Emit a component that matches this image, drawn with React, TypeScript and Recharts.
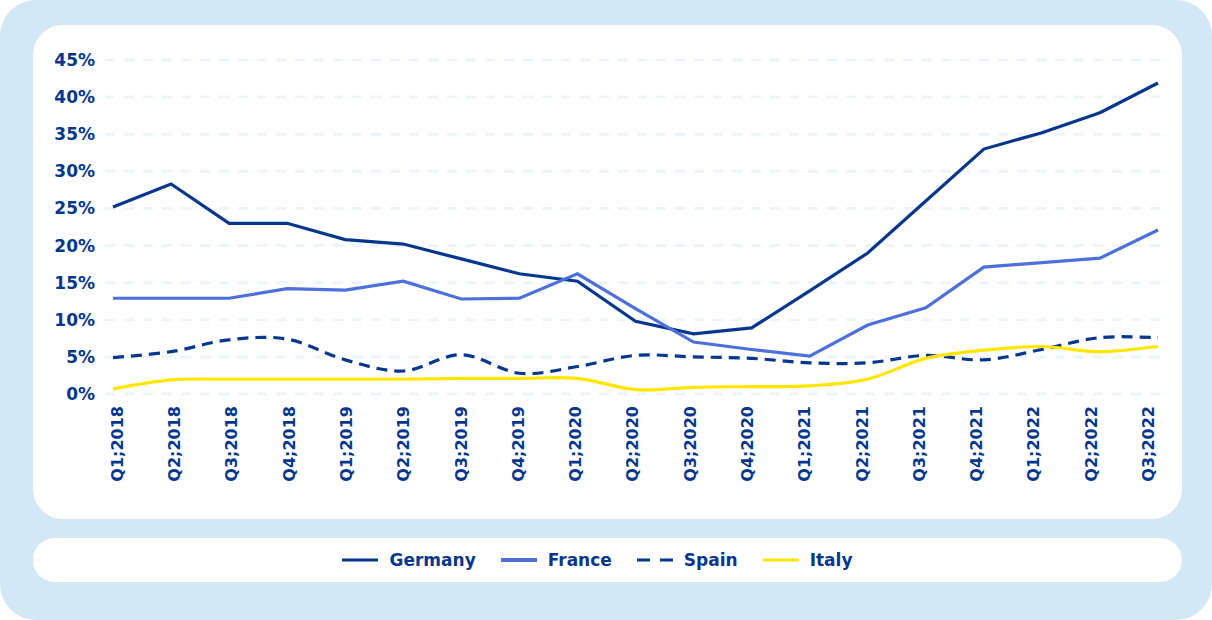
import React from "react";
import { CartesianGrid, Legend, Line, LineChart, XAxis, YAxis } from "recharts";

const NAVY = "#06378c";
const BLUE = "#4d70da";
const YELLOW = "#ffe600";
const FONT = "'DejaVu Sans', Verdana, sans-serif";

const quarters = [
  "Q1;2018", "Q2;2018", "Q3;2018", "Q4;2018",
  "Q1;2019", "Q2;2019", "Q3;2019", "Q4;2019",
  "Q1;2020", "Q2;2020", "Q3;2020", "Q4;2020",
  "Q1;2021", "Q2;2021", "Q3;2021", "Q4;2021",
  "Q1;2022", "Q2;2022", "Q3;2022",
];
const germany = [25.2, 28.3, 23.0, 23.0, 20.8, 20.2, 18.2, 16.2, 15.2, 9.8, 8.1, 8.9, 13.9, 19.0, 26.0, 33.0, 35.2, 37.9, 41.9];
const france = [12.9, 12.9, 12.9, 14.2, 14.0, 15.2, 12.8, 12.9, 16.2, 11.5, 7.0, 6.0, 5.1, 9.3, 11.6, 17.1, 17.7, 18.3, 22.1];
const spain = [4.9, 5.7, 7.3, 7.4, 4.6, 3.1, 5.3, 2.8, 3.7, 5.2, 5.0, 4.8, 4.2, 4.2, 5.2, 4.6, 6.0, 7.6, 7.6];
const italy = [0.7, 1.9, 2.0, 2.0, 2.0, 2.0, 2.1, 2.1, 2.1, 0.6, 0.9, 1.0, 1.1, 2.0, 4.8, 5.9, 6.4, 5.7, 6.4];
const yTicks = [0, 5, 10, 15, 20, 25, 30, 35, 40, 45];

const rows = quarters.map((q, i) => ({
  q,
  Germany: germany[i],
  France: france[i],
  Spain: spain[i],
  Italy: italy[i],
}));

const SERIES = [
  { key: "Germany", color: NAVY, dash: undefined, smooth: false },
  { key: "France", color: BLUE, dash: undefined, smooth: false },
  { key: "Spain", color: NAVY, dash: "11 7", smooth: true },
  { key: "Italy", color: YELLOW, dash: undefined, smooth: true },
];

// excel-like smoothed line (catmull-rom through the points)
function smoothCurve(context: any) {
  let pts: number[][] = [];
  return {
    areaStart() {},
    areaEnd() {},
    lineStart() {
      pts = [];
    },
    lineEnd() {
      if (!pts.length) return;
      context.moveTo(pts[0][0], pts[0][1]);
      for (let i = 0; i < pts.length - 1; i++) {
        const p0 = pts[i - 1] || pts[i];
        const p1 = pts[i];
        const p2 = pts[i + 1];
        const p3 = pts[i + 2] || p2;
        context.bezierCurveTo(
          p1[0] + (p2[0] - p0[0]) / 6,
          p1[1] + (p2[1] - p0[1]) / 6,
          p2[0] - (p3[0] - p1[0]) / 6,
          p2[1] - (p3[1] - p1[1]) / 6,
          p2[0],
          p2[1]
        );
      }
    },
    point(x: number, y: number) {
      pts.push([+x, +y]);
    },
  };
}

// labels in the original sit on a slightly tighter pitch than the points
function QuarterTick({ x, y, payload, index }: any) {
  const i = payload?.index ?? index ?? 0;
  const cx = x + 4 - 0.76 * i;
  return (
    <text
      x={cx}
      y={y}
      transform={`rotate(-90 ${cx} ${y})`}
      textAnchor="end"
      dy="0.36em"
      fontFamily={FONT}
      fontWeight="bold"
      fontSize={16}
      fill={NAVY}
    >
      {payload.value}
    </text>
  );
}

function LegendBox() {
  return (
    <div
      style={{
        width: "100%",
        height: "100%",
        display: "flex",
        alignItems: "center",
        justifyContent: "center",
        fontFamily: FONT,
        fontWeight: "bold",
        fontSize: 17,
        color: NAVY,
        paddingLeft: 5,
        boxSizing: "border-box",
      }}
    >
      {SERIES.map((s) => (
        <div key={s.key} style={{ display: "flex", alignItems: "center", marginRight: 25 }}>
          <svg width={36} height={8} style={{ marginRight: 11 }}>
            <line x1={0} y1={4} x2={36} y2={4} stroke={s.color} strokeWidth={s.key === "France" ? 4 : 3.2} strokeDasharray={s.dash ? "13 10" : undefined} />
          </svg>
          <span>{s.key}</span>
        </div>
      ))}
    </div>
  );
}

export default function App() {
  return (
    <div style={{ position: "absolute", left: 0, top: 0, width: 1212, height: 620, background: "#d3e8f5", borderRadius: 36 }}>
      <div style={{ position: "absolute", left: 33, top: 25, width: 1149, height: 494, background: "#fff", borderRadius: 30 }} />
      <div style={{ position: "absolute", left: 33, top: 538, width: 1149, height: 44, background: "#fff", borderRadius: 22 }} />
      <div style={{ position: "absolute", left: 0, top: 0 }}>
        <LineChart width={1212} height={520} data={rows} margin={{ top: 60, right: 47, left: 0, bottom: 0 }}>
          <CartesianGrid vertical={false} stroke="#edf5fb" strokeWidth={3} strokeDasharray="10 9" />
          <XAxis
            dataKey="q"
            interval={0}
            height={126}
            tick={<QuarterTick />}
            tickLine={false}
            axisLine={false}
            tickSize={0}
            tickMargin={12}
            padding={{ left: 8, right: 7 }}
          />
          <YAxis
            domain={[0, 45]}
            ticks={yTicks}
            width={105}
            tickFormatter={(v: number) => `${v}%`}
            tick={{ fontSize: 17, fontFamily: FONT, fontWeight: "bold", fill: NAVY }}
            tickLine={false}
            axisLine={false}
            tickSize={0}
            tickMargin={10}
          />
          {SERIES.map((s) => (
            <Line
              key={s.key}
              dataKey={s.key}
              type={s.smooth ? (smoothCurve as any) : "linear"}
              stroke={s.color}
              strokeWidth={3.2}
              strokeDasharray={s.dash}
              dot={false}
              isAnimationActive={false}
            />
          ))}
          <Legend
            layout="horizontal"
            verticalAlign="middle"
            align="center"
            content={() => <LegendBox />}
            wrapperStyle={{ position: "absolute", left: 33, top: 538, width: 1149, height: 44 }}
          />
        </LineChart>
      </div>
    </div>
  );
}
